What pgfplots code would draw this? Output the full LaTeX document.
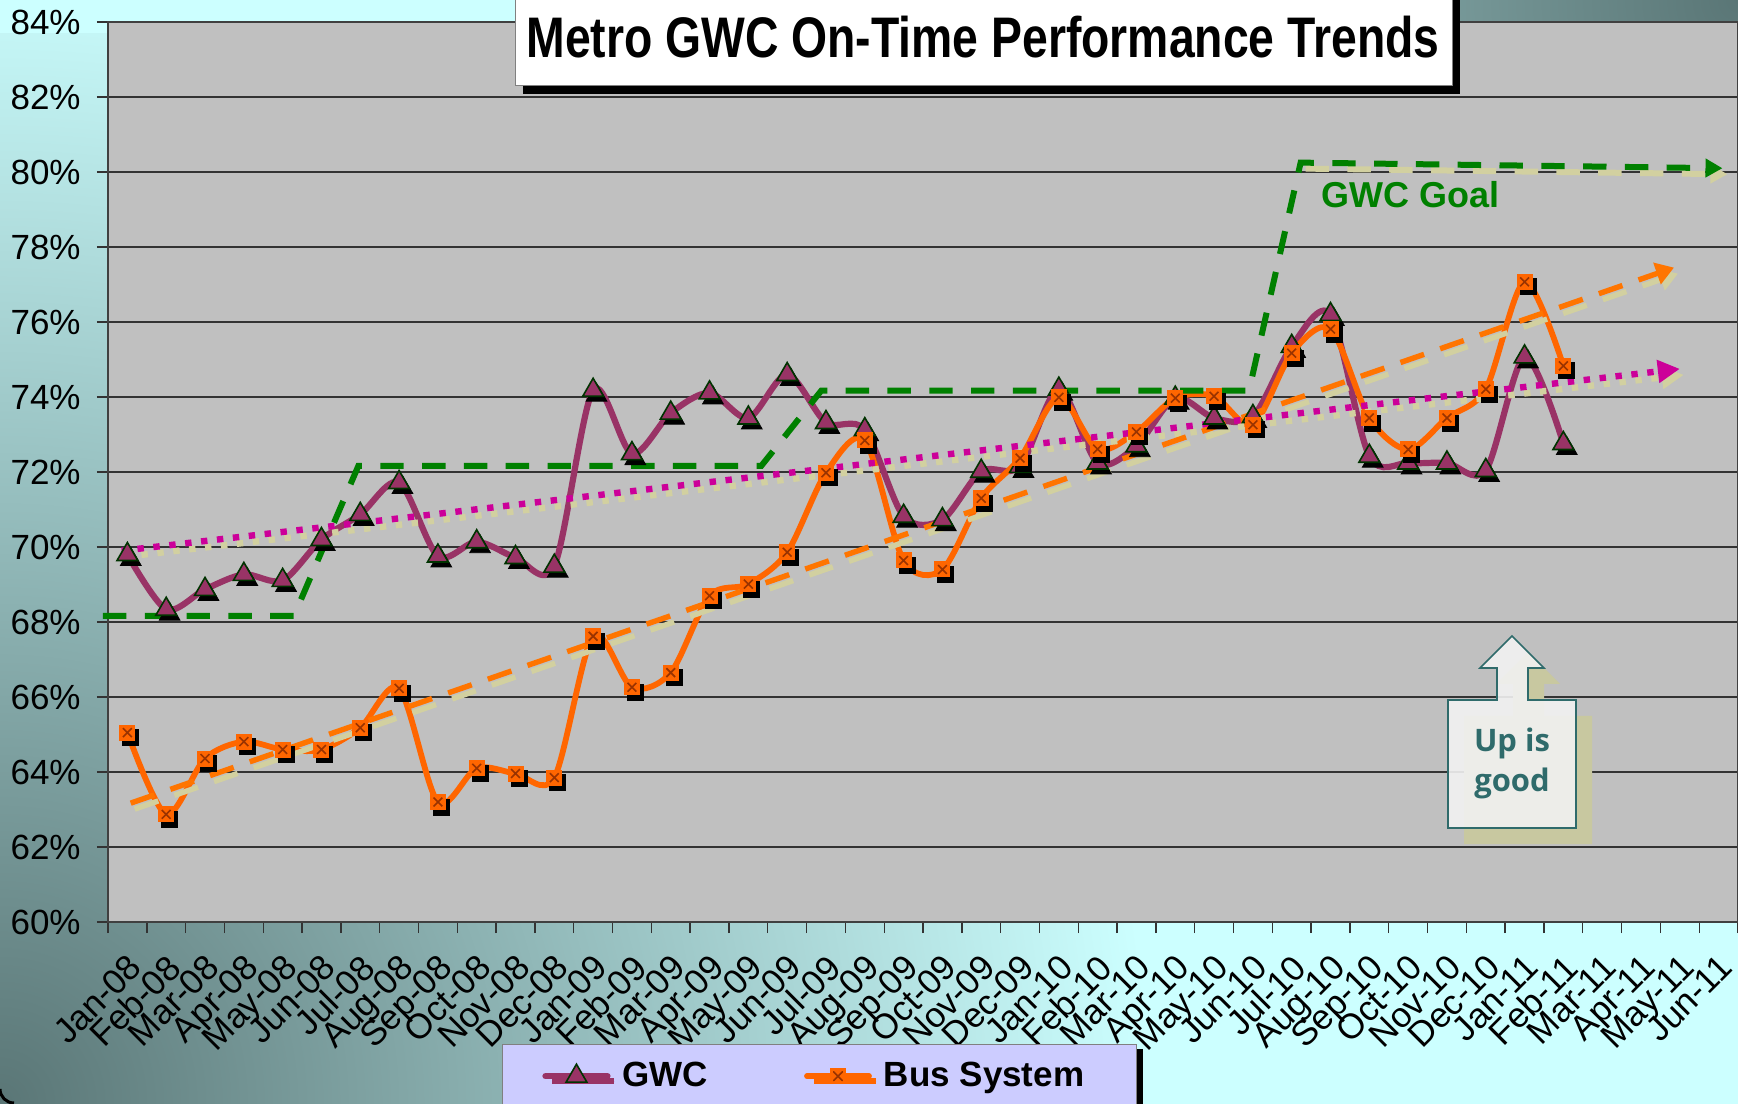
\documentclass[border=0pt]{standalone}
\usepackage{fontspec}
\setmainfont{Liberation Sans}
\newfontfamily\upfont{Open Sans}
\usepackage{graphicx}
\usepackage{pgfplots}
\usepackage{pgfplotstable}
\pgfplotsset{compat=1.18}
\usetikzlibrary{arrows.meta,shadows}

\definecolor{bgdark}{HTML}{5A7676}
\definecolor{bglight}{HTML}{CCFFFF}
\definecolor{plotgray}{HTML}{C0C0C0}
\definecolor{gwcpurple}{HTML}{993366}
\definecolor{tridark}{HTML}{003300}
\definecolor{busorange}{HTML}{FF6600}
\definecolor{xbrown}{HTML}{993300}
\definecolor{goalgreen}{HTML}{008000}
\definecolor{trendmag}{HTML}{CC0099}
\definecolor{khaki}{HTML}{D2D0A0}
\definecolor{legfill}{HTML}{CCCCFF}
\definecolor{upteal}{HTML}{2F6B6B}
\definecolor{upfill}{HTML}{F2F2F2}
\definecolor{upshadow}{HTML}{C8C8A0}

\pgfdeclareradialshading{cornerteal}{\pgfpointorigin}{color(0bp)=(bgdark); color(12.5bp)=(bglight); color(50bp)=(bglight)}

\pgfdeclareplotmark{sqx}{%
  \pgfpathrectangle{\pgfqpoint{-\pgfplotmarksize}{-\pgfplotmarksize}}{\pgfqpoint{2\pgfplotmarksize}{2\pgfplotmarksize}}%
  \pgfusepathqfill
  \pgfsetstrokecolor{xbrown}%
  \pgfsetlinewidth{0.8pt}%
  \pgfpathmoveto{\pgfqpoint{-0.55\pgfplotmarksize}{-0.55\pgfplotmarksize}}%
  \pgfpathlineto{\pgfqpoint{0.55\pgfplotmarksize}{0.55\pgfplotmarksize}}%
  \pgfpathmoveto{\pgfqpoint{-0.55\pgfplotmarksize}{0.55\pgfplotmarksize}}%
  \pgfpathlineto{\pgfqpoint{0.55\pgfplotmarksize}{-0.55\pgfplotmarksize}}%
  \pgfusepathqstroke
}

\pgfplotstableread{
i v
0 69.80
1 68.34
2 68.87
3 69.27
4 69.11
5 70.20
6 70.87
7 71.72
8 69.76
9 70.14
10 69.72
11 69.49
12 74.18
13 72.49
14 73.57
15 74.11
16 73.44
17 74.60
18 73.32
19 73.13
20 70.82
21 70.73
22 72.02
23 72.15
24 74.21
25 72.24
26 72.70
27 73.97
28 73.44
29 73.48
30 75.35
31 76.20
32 72.42
33 72.24
34 72.24
35 72.04
36 75.07
37 72.76
}\gwcdata

\pgfplotstableread{
i v
0 65.05
1 62.87
2 64.36
3 64.81
4 64.60
5 64.60
6 65.18
7 66.23
8 63.20
9 64.10
10 63.96
11 63.85
12 67.62
13 66.26
14 66.65
15 68.70
16 69.01
17 69.86
18 71.98
19 72.84
20 69.64
21 69.40
22 71.30
23 72.37
24 73.99
25 72.61
26 73.07
27 73.97
28 74.02
29 73.26
30 75.17
31 75.81
32 73.44
33 72.60
34 73.44
35 74.21
36 77.07
37 74.83
}\busdata

\pgfplotstableread{
i v
-0.63 68.16
4.29 68.16
5.95 72.16
16.33 72.16
17.88 74.17
28.90 74.17
30.23 80.25
41.10 80.10
}\goaldata

\newcommand\tickfont{\fontsize{17.5}{20}\selectfont}
\newcommand\legfont{\fontsize{17.5}{20}\selectfont\bfseries}

\begin{document}
\begin{tikzpicture}
\useasboundingbox (0,0) rectangle (869pt,551.5pt);
\clip (0,0) rectangle (869pt,551.5pt);
% background
\fill[bglight] (0,0) rectangle (869pt,551.5pt);
\begin{scope}
  \clip (0,0) rectangle (869pt,551.5pt);
  \shade[shading=cornerteal] (-1150pt,-1150pt) rectangle (1150pt,1150pt);
\end{scope}
\begin{scope}
  \clip (0,535pt) rectangle (869pt,551.5pt);
  \shade[shading=cornerteal] (-281pt,-598.5pt) rectangle (2019pt,1701.5pt);
\end{scope}
\draw[black, line width=1.5pt] (0,7pt) arc[start angle=180, end angle=270, radius=7pt];

\begin{axis}[
  at={(54pt,90.5pt)}, anchor=south west,
  scale only axis, width=815pt, height=450pt,
  xmin=-0.5, xmax=41.5, ymin=60, ymax=84,
  axis background/.style={fill=plotgray},
  axis line style={draw=black!75, line width=0.8pt},
  clip=false,
  ytick={60,62,...,84},
  yticklabel={\pgfmathprintnumber{\tick}\%},
  /pgf/number format/assume math mode=true,
  ymajorgrids, grid style={draw=black!80, line width=0.6pt},
  xtick={0,...,41},
  xticklabels={Jan-08,Feb-08,Mar-08,Apr-08,May-08,Jun-08,Jul-08,Aug-08,Sep-08,Oct-08,Nov-08,Dec-08,
    Jan-09,Feb-09,Mar-09,Apr-09,May-09,Jun-09,Jul-09,Aug-09,Sep-09,Oct-09,Nov-09,Dec-09,
    Jan-10,Feb-10,Mar-10,Apr-10,May-10,Jun-10,Jul-10,Aug-10,Sep-10,Oct-10,Nov-10,Dec-10,
    Jan-11,Feb-11,Mar-11,Apr-11,May-11,Jun-11},
  minor xtick={-0.5,0.5,...,41.5},
  major x tick style={draw=none},
  xtick pos=bottom, ytick pos=left,
  tick align=outside,
  major tick length=5.5pt, minor tick length=5.5pt,
  tick style={draw=black!80, line width=0.7pt},
  yticklabel style={font=\tickfont, anchor=east, inner sep=0pt, xshift=-8pt},
  xticklabel style={font=\tickfont, inner sep=0pt, xshift=-0.5pt, yshift=-9.5pt, rotate=45, anchor=north east},
  legend style={at={(0.2417,-0.1356)}, anchor=north west, draw=black!50, fill=legfill,
    font=\legfont, legend columns=2, inner xsep=20pt, inner ysep=7pt,
    /tikz/every even column/.append style={column sep=42pt},
    nodes={inner xsep=6pt},
    drop shadow={shadow xshift=3.5pt, shadow yshift=-2.5pt, fill=black, opacity=1}},
  legend cell align=left,
  legend image code/.code={\draw[mark repeat=2,mark phase=2,line cap=round,#1] plot coordinates {(0pt,0pt) (15.5pt,0pt) (31pt,0pt)};},
]
% GWC series
\addplot[only marks, mark=triangle*, mark size=6pt, mark options={fill=black, draw=black}, xshift=1.7pt, yshift=-2.5pt, forget plot] table[x=i,y=v] {\gwcdata};
\addplot[gwcpurple, line width=3.1pt, smooth, mark=triangle*, mark size=6pt,
  mark options={fill=gwcpurple, draw=tridark, line width=0.8pt, solid}] table[x=i,y=v] {\gwcdata};
\addlegendentry{GWC}
% Bus series
\addplot[only marks, mark=square*, mark size=4pt, mark options={fill=black, draw=black}, xshift=1.7pt, yshift=-2.5pt, forget plot] table[x=i,y=v] {\busdata};
\addplot[busorange, line width=2.9pt, smooth, mark=sqx, mark size=4pt,
  mark options={fill=busorange, solid}] table[x=i,y=v] {\busdata};
\addlegendentry{Bus System}
% trend shadows
\addplot[khaki, line width=3.2pt, dash pattern=on 3.2pt off 4.8pt, xshift=2pt, yshift=-3pt,
  -{Triangle[length=11pt,width=11pt]}, forget plot] coordinates {(-0.15,69.9) (40.0,74.75)};
\addplot[khaki, line width=2.7pt, dash pattern=on 12.5pt off 8.5pt, xshift=2pt, yshift=-3pt,
  -{Triangle[length=9pt,width=11pt]}, forget plot] coordinates {(0.085,63.17) (39.85,77.45)};
% trends
\addplot[trendmag, line width=3.2pt, dash pattern=on 3.2pt off 4.8pt,
  -{Triangle[length=11pt,width=11pt]}, forget plot] coordinates {(-0.15,69.9) (40.0,74.75)};
\addplot[busorange!90!yellow, line width=2.7pt, dash pattern=on 12.5pt off 8.5pt,
  -{Triangle[length=9pt,width=11pt]}, forget plot] coordinates {(0.085,63.17) (39.85,77.45)};
% goal
\addplot[khaki, line width=3pt, dash pattern=on 11.7pt off 9.2pt, xshift=2.5pt, yshift=-3pt,
  -{Triangle[length=8.5pt,width=9pt]}, forget plot] coordinates {(30.23,80.25) (41.10,80.10)};
\addplot[goalgreen, line width=3pt, dash pattern=on 11.7pt off 9.2pt,
  -{Triangle[length=8.5pt,width=9pt]}, forget plot] table[x=i,y=v] {\goaldata};
\end{axis}

% title
\fill[black] (261.3pt,504.4pt) rectangle (730pt,570pt);
\filldraw[fill=white, draw=black!50, line width=0.5pt] (257.5pt,508.5pt) rectangle (726.3pt,570pt);
\node[anchor=base, inner sep=0pt] at (491.5pt,522.7pt)
  {\scalebox{0.81}[1]{\fontsize{28.6}{34}\selectfont\bfseries Metro GWC On-Time Performance Trends}};

% GWC Goal label
\node[anchor=base west, inner sep=0pt, text=goalgreen] at (660.5pt,447.9pt)
  {\fontsize{18}{20}\selectfont\bfseries GWC Goal};

% Up is good callout
\def\uparrowshape{(756pt,233.5pt) -- (772pt,217.5pt) -- (764pt,217.5pt) -- (764pt,201.5pt) -- (788pt,201.5pt) -- (788pt,137.5pt) -- (724pt,137.5pt) -- (724pt,201.5pt) -- (748.5pt,201.5pt) -- (748.5pt,217.5pt) -- (740pt,217.5pt) -- cycle}
\begin{scope}[xshift=8pt, yshift=-8pt]
  \fill[upshadow] \uparrowshape;
\end{scope}
\filldraw[fill=upfill, fill opacity=0.9, draw=upteal, line width=0.8pt] \uparrowshape;
\node[align=center, text=upteal, inner sep=0pt, font=\fontsize{15.5}{20}\selectfont\upfont\bfseries] at (756pt,170pt)
  {Up is\\good};
\end{tikzpicture}
\end{document}
